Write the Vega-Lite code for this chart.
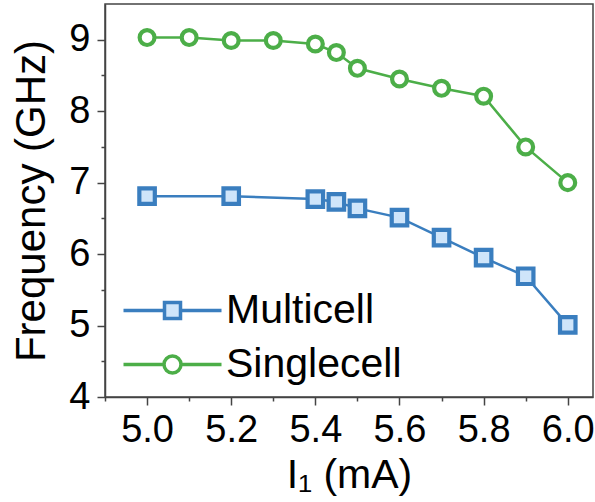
{
  "$schema": "https://vega.github.io/schema/vega-lite/v6.json",
  "autosize": {"type": "none"},
  "padding": {"left": 105, "top": 4, "right": 2, "bottom": 105},
  "width": 488,
  "height": 393,
  "config": {
    "font": "Liberation Sans",
    "view": {"stroke": "#444", "strokeWidth": 1.5},
    "axis": {
      "domainColor": "#444", "domainWidth": 1.5, "tickColor": "#444", "tickWidth": 1.5,
      "grid": false, "labelColor": "#000", "titleColor": "#000",
      "labelFont": "Liberation Sans", "titleFont": "Liberation Sans",
      "labelFontWeight": "normal", "titleFontWeight": "normal"
    }
  },
  "data": {
    "values": [
      {"series": "Multicell", "current": 5.0, "freq": 6.81},
      {"series": "Multicell", "current": 5.2, "freq": 6.81},
      {"series": "Multicell", "current": 5.4, "freq": 6.77},
      {"series": "Multicell", "current": 5.45, "freq": 6.73},
      {"series": "Multicell", "current": 5.5, "freq": 6.64},
      {"series": "Multicell", "current": 5.6, "freq": 6.51},
      {"series": "Multicell", "current": 5.7, "freq": 6.23},
      {"series": "Multicell", "current": 5.8, "freq": 5.95},
      {"series": "Multicell", "current": 5.9, "freq": 5.69},
      {"series": "Multicell", "current": 6.0, "freq": 5.01},
      {"series": "Singlecell", "current": 5.0, "freq": 9.03},
      {"series": "Singlecell", "current": 5.1, "freq": 9.03},
      {"series": "Singlecell", "current": 5.2, "freq": 8.99},
      {"series": "Singlecell", "current": 5.3, "freq": 8.99},
      {"series": "Singlecell", "current": 5.4, "freq": 8.94},
      {"series": "Singlecell", "current": 5.45, "freq": 8.82},
      {"series": "Singlecell", "current": 5.5, "freq": 8.60},
      {"series": "Singlecell", "current": 5.6, "freq": 8.45},
      {"series": "Singlecell", "current": 5.7, "freq": 8.32},
      {"series": "Singlecell", "current": 5.8, "freq": 8.21},
      {"series": "Singlecell", "current": 5.9, "freq": 7.50},
      {"series": "Singlecell", "current": 6.0, "freq": 7.00}
    ]
  },
  "resolve": {
    "axis": {"x": "independent", "y": "independent"},
    "scale": {"shape": "independent", "fill": "independent", "stroke": "independent"},
    "legend": {"shape": "independent", "fill": "independent", "stroke": "independent"}
  },
  "layer": [
    {
      "mark": {"type": "line", "strokeWidth": 2.5},
      "encoding": {
        "x": {"field": "current", "type": "quantitative",
          "scale": {"domain": [4.9, 6.06], "nice": false, "zero": false},
          "axis": {"orient": "bottom", "values": [4.9, 5.1, 5.3, 5.5, 5.7, 5.9], "labels": false, "title": null, "domain": false, "tickSize": 4}},
        "y": {"field": "freq", "type": "quantitative",
          "scale": {"domain": [4, 9.5], "nice": false, "zero": false},
          "axis": {"orient": "left", "values": [4.5, 5.5, 6.5, 7.5, 8.5], "labels": false, "title": null, "domain": false, "tickSize": 4}},
        "color": {"field": "series", "type": "nominal",
          "scale": {"domain": ["Multicell", "Singlecell"], "range": ["#3a7ebf", "#4cae48"]},
          "legend": null}
      }
    },
    {
      "mark": {"type": "point", "opacity": 1, "fillOpacity": 1, "strokeWidth": 4.2},
      "encoding": {
        "x": {"field": "current", "type": "quantitative",
          "axis": {"orient": "bottom", "values": [5.0, 5.2, 5.4, 5.6, 5.8, 6.0], "format": ".1f", "title": "I₁ (mA)",
            "labelFontSize": 38, "titleFontSize": 41, "tickSize": 8, "labelPadding": 6, "titlePadding": 6}},
        "y": {"field": "freq", "type": "quantitative",
          "axis": {"orient": "left", "values": [4, 5, 6, 7, 8, 9], "format": "d", "title": "Frequency (GHz)",
            "labelFontSize": 38, "titleFontSize": 42, "tickSize": 8, "labelPadding": 7, "titlePadding": 15}},
        "shape": {"field": "series", "type": "nominal",
          "scale": {"domain": ["Multicell", "Singlecell"], "range": ["square", "circle"]}, "legend": null},
        "size": {"field": "series", "type": "nominal",
          "scale": {"domain": ["Multicell", "Singlecell"], "range": [240, 220]}, "legend": null},
        "fill": {"field": "series", "type": "nominal",
          "scale": {"domain": ["Multicell", "Singlecell"], "range": ["#cfe5fa", "#ffffff"]}, "legend": null},
        "stroke": {"field": "series", "type": "nominal",
          "scale": {"domain": ["Multicell", "Singlecell"], "range": ["#3a7ebf", "#4cae48"]}, "legend": null}
      }
    },
    {
      "mark": {"type": "point", "opacity": 0, "strokeWidth": 4},
      "encoding": {
        "x": {"field": "current", "type": "quantitative", "axis": null},
        "y": {"field": "freq", "type": "quantitative", "axis": null},
        "shape": {"field": "series", "type": "nominal",
          "scale": {"domain": ["Multicell", "Singlecell"],
            "range": ["M-4.9,0H-0.8M0.8,0H4.9M-0.8,-0.8H0.8V0.8H-0.8Z", "M-4.9,0H-0.85M0.85,0H4.9M-0.85,0A0.85,0.85,0,1,0,0.85,0A0.85,0.85,0,1,0,-0.85,0Z"]},
          "legend": {
            "title": null, "orient": "none", "legendX": 47, "legendY": 286, "padding": 0,
            "labelFontSize": 41, "labelFont": "Liberation Sans", "labelColor": "#000", "labelLimit": 600,
            "labelOffset": 33, "symbolSize": 400, "symbolStrokeWidth": 3.5, "rowPadding": 12,
            "symbolOpacity": 1, "symbolFillColor": "#ffffff", "symbolStrokeColor": "#3a7ebf"
          }},
        "fill": {"field": "series", "type": "nominal",
          "scale": {"domain": ["Multicell", "Singlecell"], "range": ["#cfe5fa", "#ffffff"]},
          "legend": {
            "title": null, "orient": "none", "legendX": 47, "legendY": 286, "padding": 0,
            "labelFontSize": 41, "labelFont": "Liberation Sans", "labelColor": "#000", "labelLimit": 600,
            "labelOffset": 33, "symbolSize": 400, "symbolStrokeWidth": 3.5, "rowPadding": 12,
            "symbolOpacity": 1, "symbolFillColor": "#ffffff", "symbolStrokeColor": "#3a7ebf"
          }},
        "stroke": {"field": "series", "type": "nominal",
          "scale": {"domain": ["Multicell", "Singlecell"], "range": ["#3a7ebf", "#4cae48"]},
          "legend": {
            "title": null, "orient": "none", "legendX": 47, "legendY": 286, "padding": 0,
            "labelFontSize": 41, "labelFont": "Liberation Sans", "labelColor": "#000", "labelLimit": 600,
            "labelOffset": 33, "symbolSize": 400, "symbolStrokeWidth": 3.5, "rowPadding": 12,
            "symbolOpacity": 1, "symbolFillColor": "#ffffff", "symbolStrokeColor": "#3a7ebf"
          }}
      }
    }
  ]
}
